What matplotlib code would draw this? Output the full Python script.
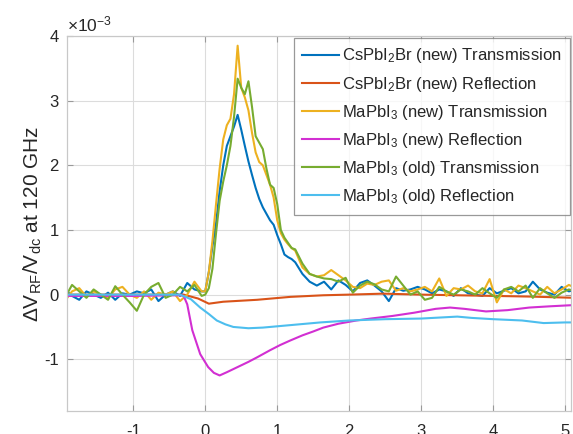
import numpy as np
import matplotlib
matplotlib.use('Agg')
from matplotlib import pyplot as plt

plt.rcParams['font.family'] = ['Liberation Sans', 'DejaVu Sans']
plt.rcParams['mathtext.fontset'] = 'custom'
plt.rcParams['mathtext.rm'] = 'Liberation Sans'
plt.rcParams['mathtext.it'] = 'Liberation Sans:italic'
plt.rcParams['axes.unicode_minus'] = False

#Time axis of the transmission scans (ns): coarse before/after, fine around the peak
t_pre = np.round(np.arange(-1.95, 0.0, 0.1), 2)
t_peak = np.round(np.arange(0.0, 1.21, 0.05), 2)
t_post = np.round(np.arange(1.25, 5.2, 0.1), 2)
t_trans = np.concatenate([t_pre, t_peak, t_post])

#Signals in units of 1e-3
cs_trans = [0.08, -0.02, -0.08, 0.05, 0.0, -0.05, 0.03, -0.08, 0.02, 0.0,
            0.05, 0.02, 0.08, -0.1, 0.0, 0.05, -0.02, 0.18, 0.08, 0.05,
            0.05, 0.35, 0.75, 1.1, 1.6, 2.0, 2.3, 2.45, 2.6, 2.78,
            2.55, 2.3, 2.06, 1.85, 1.65, 1.48, 1.35, 1.25, 1.15, 1.08,
            0.92, 0.78, 0.62, 0.58, 0.55,
            0.5, 0.32, 0.2, 0.14, 0.2, 0.08, 0.22, 0.15, 0.05, 0.18,
            0.22, 0.14, 0.05, -0.1, 0.1, 0.06, 0.08, 0.12, 0.08, 0.02,
            0.08, 0.05, -0.02, 0.1, 0.02, 0.0, -0.02, 0.1, 0.02, 0.06,
            0.1, 0.02, 0.05, 0.2, 0.08, 0.03, 0.0, 0.12, 0.05, 0.08]
ma_new_trans = [-0.1, 0.05, 0.1, -0.03, 0.05, 0.0, -0.05, 0.08, 0.12, 0.0,
                -0.05, 0.05, -0.08, 0.03, 0.0, 0.05, -0.1, 0.0, 0.2, 0.05,
                0.05, 0.35, 0.83, 1.4, 1.95, 2.4, 2.62, 2.72, 3.1, 3.85,
                3.2, 3.05, 2.85, 2.5, 2.2, 2.05, 2.0, 1.85, 1.7, 1.5,
                1.15, 0.95, 0.85, 0.78, 0.72,
                0.68, 0.42, 0.32, 0.28, 0.3, 0.38, 0.3, 0.22, 0.12, 0.1,
                0.17, 0.15, 0.2, 0.22, 0.06, 0.1, 0.05, 0.08, 0.12, 0.05,
                0.25, -0.02, 0.1, 0.08, 0.14, 0.05, 0.02, 0.24, -0.12, 0.08,
                0.02, 0.14, 0.1, 0.05, 0.0, 0.12, 0.02, 0.08, 0.15, 0.1]
ma_old_trans = [-0.05, 0.15, 0.05, -0.05, 0.08, 0.0, -0.08, 0.13, 0.0, -0.12,
                -0.25, 0.0, 0.12, 0.18, -0.05, 0.0, 0.12, 0.05, 0.15, -0.02,
                0.0, 0.1, 0.4, 0.95, 1.45, 1.75, 2.0, 2.3, 2.75, 3.34,
                3.2, 3.1, 3.3, 2.9, 2.45, 2.35, 2.25, 1.95, 1.7, 1.65,
                1.4, 1.0, 0.88, 0.8, 0.72,
                0.7, 0.48, 0.32, 0.28, 0.25, 0.24, 0.2, 0.26, 0.03, 0.14,
                0.2, 0.16, 0.08, 0.05, 0.28, 0.14, 0.0, 0.05, -0.08, -0.05,
                0.12, 0.05, 0.0, 0.08, 0.05, 0.0, 0.1, 0.02, -0.05, 0.08,
                0.12, 0.05, 0.14, -0.05, 0.1, 0.02, -0.05, 0.03, 0.08, 0.05]

#Reflection signals are smooth, so fewer points are enough
t_cs_refl = [-1.95, -1.0, -0.3, -0.1, 0.05, 0.25, 0.72, 1.18, 1.64, 2.0,
             2.47, 3.0, 3.5, 4.0, 4.5, 5.15]
cs_refl = [0.0, 0.0, 0.0, -0.06, -0.14, -0.11, -0.08, -0.035, -0.01, 0.0,
           0.015, 0.0, -0.01, -0.02, -0.03, -0.05]
t_ma_new_refl = [-1.95, -1.0, -0.35, -0.3, -0.25, -0.18, -0.07, 0.04, 0.12, 0.2,
                 0.3, 0.45, 0.6, 0.72, 0.9, 1.04, 1.18, 1.35, 1.5, 1.64,
                 1.85, 2.1, 2.3, 2.6, 2.9, 3.2, 3.4, 3.6, 3.9, 4.2,
                 4.5, 4.8, 5.15]
ma_new_refl = [-0.02, -0.02, -0.01, -0.02, -0.15, -0.55, -0.92, -1.12, -1.21, -1.25,
               -1.2, -1.12, -1.04, -0.97, -0.86, -0.78, -0.71, -0.63, -0.57, -0.51,
               -0.45, -0.4, -0.37, -0.33, -0.28, -0.22, -0.2, -0.22, -0.26, -0.24,
               -0.2, -0.18, -0.16]
t_ma_old_refl = [-1.95, -1.0, -0.35, -0.2, -0.07, 0.05, 0.16, 0.28, 0.39, 0.6,
                 0.8, 1.0, 1.3, 1.6, 2.0, 2.5, 3.0, 3.5, 3.7, 4.0,
                 4.4, 4.7, 5.0, 5.15]
ma_old_refl = [0.0, 0.0, 0.0, -0.07, -0.2, -0.3, -0.4, -0.46, -0.5, -0.52,
               -0.51, -0.49, -0.46, -0.43, -0.4, -0.38, -0.37, -0.34, -0.36, -0.38,
               -0.4, -0.44, -0.43, -0.43]

fig = plt.figure(figsize=(5.73, 4.34), dpi=100)
ax = fig.add_axes([67/573, 23/434, 504/573, 375/434])

lw = 1.5
ax.plot(t_trans, cs_trans, color='#0072BD', lw=lw, label=r'CsPbI$_2$Br (new) Transmission')
ax.plot(t_cs_refl, cs_refl, color='#D95319', lw=lw, label=r'CsPbI$_2$Br (new) Reflection')
ax.plot(t_trans, ma_new_trans, color='#EDB120', lw=lw, label=r'MaPbI$_3$ (new) Transmission')
ax.plot(t_ma_new_refl, ma_new_refl, color='#D22FD2', lw=lw, label=r'MaPbI$_3$ (new) Reflection')
ax.plot(t_trans, ma_old_trans, color='#77AC30', lw=lw, label=r'MaPbI$_3$ (old) Transmission')
ax.plot(t_ma_old_refl, ma_old_refl, color='#4DBEEE', lw=lw, label=r'MaPbI$_3$ (old) Reflection')

ax.set_xlim(-1.92, 5.08)
ax.set_ylim(-1.8, 4)
ax.set_xticks([-1, 0, 1, 2, 3, 4, 5])
ax.set_yticks([-1, 0, 1, 2, 3, 4])
ax.grid(True, color='#dcdcdc', lw=0.8)
ax.set_axisbelow(True)
for s in ax.spines.values():
    s.set_color('#c8c8c8')
    s.set_linewidth(0.9)
ax.tick_params(direction='in', length=4, width=0.8, color='#9a9a9a',
               labelsize=12, labelcolor='#262626', top=True, right=True)
ax.tick_params(axis='x', pad=9)
ax.tick_params(axis='y', pad=6)

ax.set_ylabel(r'$\Delta$V$_{\mathrm{RF}}$/V$_{\mathrm{dc}}$ at 120 GHz', fontsize=15,
              color='#262626', labelpad=0)
ax.text(0.0, 1.005, r'$\times$10$^{-3}$', transform=ax.transAxes, fontsize=12.5,
        color='#262626', ha='left', va='bottom')

leg = ax.legend(loc='upper right', bbox_to_anchor=(570/573, 396/434),
                bbox_transform=fig.transFigure, fontsize=12, frameon=True,
                fancybox=False, handlelength=2.2, handletextpad=0.2,
                labelspacing=0.55, borderpad=0.5, borderaxespad=0)
leg.get_frame().set_edgecolor('#808080')
leg.get_frame().set_linewidth(0.9)
for t in leg.get_texts():
    t.set_color('#262626')

plt.savefig('out.png', dpi=100)
